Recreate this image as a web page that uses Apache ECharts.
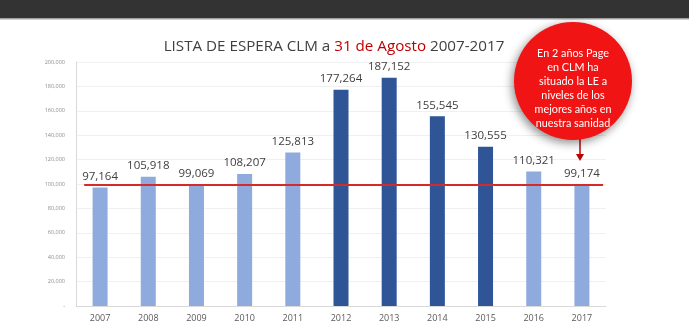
<!DOCTYPE html>
<html><head><meta charset="utf-8">
<script src="https://cdn.jsdelivr.net/npm/echarts@6/dist/echarts.min.js"></script>
<style>html,body{margin:0;padding:0;background:#fff}#c{width:689px;height:331px}</style>
</head><body><div id="c"></div>
<script>
const categories = ['2007','2008','2009','2010','2011','2012','2013','2014','2015','2016','2017'];
const values = [97164, 105918, 99069, 108207, 125813, 177264, 187152, 155545, 130555, 110321, 99174];
const highlighted = [false,false,false,false,false,true,true,true,true,false,false];
const refLevel = 99174;
const refSpan = [-0.33, 10.44];
const bubbleLines = ['En 2 años Page', 'en CLM ha', 'situado la LE a', 'niveles de los', 'mejores años en', 'nuestra sanidad'];

const LIGHT = '#8FAADC', DARK = '#2F5597';
const chart = echarts.init(document.getElementById('c'));
chart.setOption({
  animation: false,
  title: {
    text: '{a|LISTA DE ESPERA CLM a }{b|31 de Agosto}{a| 2007-2017}',
    left: 329, top: 34, textAlign: 'center',
    textStyle: { fontWeight: 'normal', rich: {
      a: { fontFamily: 'Open Sans', fontSize: 15.2, fontWeight: 'normal', color: '#404040' },
      b: { fontFamily: 'Open Sans', fontSize: 15.2, fontWeight: 'normal', color: '#C00000' }
    }}
  },
  grid: { left: 76, right: 83, top: 62, bottom: 25, containLabel: false },
  xAxis: [{
    type: 'category', data: categories,
    axisLine: { lineStyle: { color: '#D9D9D9' } },
    axisTick: { show: false },
    axisLabel: { color: '#595959', fontSize: 9, fontFamily: 'Open Sans', margin: 8 }
  }, {
    type: 'value', min: -0.5, max: categories.length - 0.5, show: false
  }],
  yAxis: {
    type: 'value', min: 0, max: 200000, interval: 20000,
    axisLine: { show: true, onZero: false, lineStyle: { color: '#D9D9D9' } },
    axisTick: { show: false },
    splitLine: { lineStyle: { color: '#F0F0F0' } },
    axisLabel: { color: '#8C8C8C', fontSize: 5.5, fontFamily: 'Open Sans', margin: 11,
      formatter: v => v === 0 ? '-' : v.toLocaleString('en-US') }
  },
  series: [{
    type: 'bar', barWidth: 15, xAxisIndex: 0,
    data: values.map((v, i) => ({ value: v, itemStyle: { color: highlighted[i] ? DARK : LIGHT } })),
    label: { show: true, position: 'top', distance: 5, color: '#404040', fontSize: 11.5, fontFamily: 'Open Sans',
      formatter: p => p.value.toLocaleString('en-US') }
  }, {
    type: 'line', xAxisIndex: 1, symbol: 'none', z: 5,
    data: [[refSpan[0], refLevel], [refSpan[1], refLevel]],
    lineStyle: { color: '#D42A2A', width: 2 }
  }],
  graphic: [
    { type: 'rect', shape: { x: 0, y: 0, width: 689, height: 18 }, style: { fill: '#333333' } },
    { type: 'rect', shape: { x: 0, y: 18, width: 689, height: 1.5 }, style: { fill: '#A0A0A0' } },
    { type: 'line', shape: { x1: 580, y1: 136, x2: 580, y2: 156 }, style: { stroke: '#C00000', lineWidth: 1.5 }, z: 10 },
    { type: 'polygon', shape: { points: [[576, 154], [584, 154], [580, 161]] }, style: { fill: '#C00000' }, z: 10 },
    { type: 'circle', shape: { cx: 573, cy: 81, r: 59 },
      style: { fill: '#F01414', shadowBlur: 10, shadowColor: 'rgba(0,0,0,0.45)', shadowOffsetX: -2, shadowOffsetY: 3 }, z: 11 },
    { type: 'text', x: 573, y: 47, z: 12,
      style: { text: bubbleLines.join('\n'), fill: '#FFFFFF', fontSize: 10.8, lineHeight: 14, fontFamily: 'Lato', align: 'center', verticalAlign: 'top' } }
  ]
});
</script></body></html>
